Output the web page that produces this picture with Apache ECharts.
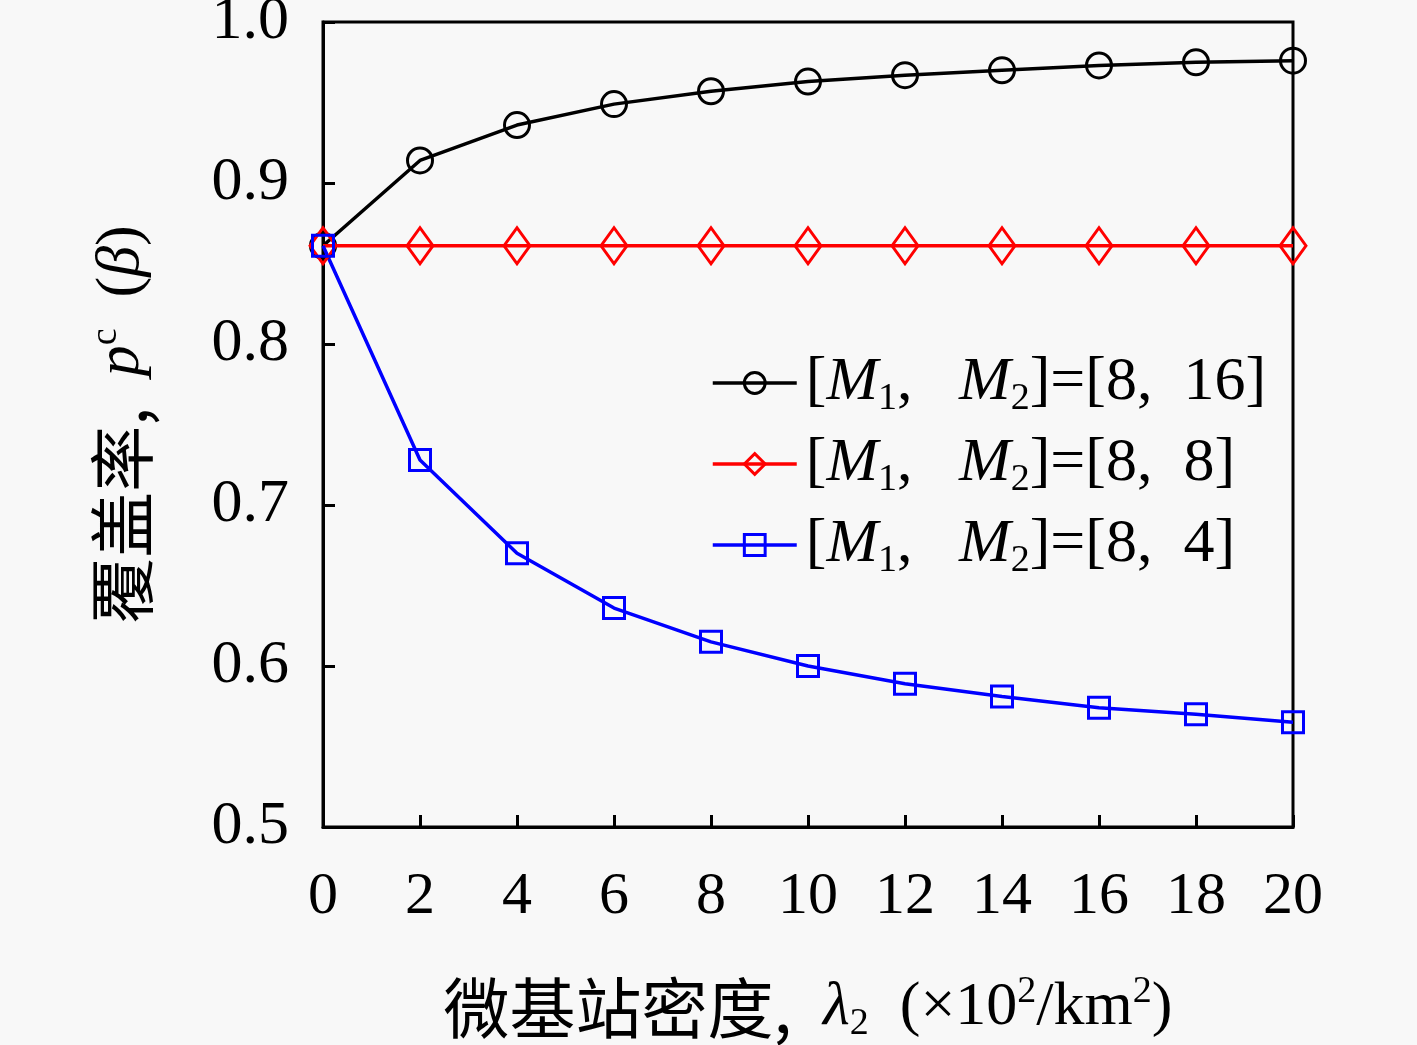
<!DOCTYPE html>
<html lang="zh">
  <head>
    <meta charset="UTF-8" />
    <title>覆盖率</title>
    <style>
      body {
        margin: 0;
        overflow: hidden;
        background: #f8f8f8;
      }
      #chart {
        width: 1417px;
        height: 1045px;
      }
    </style>
    <script src="https://cdn.jsdelivr.net/npm/echarts@6/dist/echarts.min.js"></script>
  </head>
  <body>
    <div id="chart"></div>
    <script>
      // 微基站密度 (x10^2/km^2)
      var density = [0, 2, 4, 6, 8, 10, 12, 14, 16, 18, 20];
      // 覆盖率 values
      var cov16 = [0.861, 0.914, 0.936, 0.949, 0.957, 0.963, 0.967, 0.970, 0.973, 0.975, 0.976];
      var cov8 = [0.861, 0.861, 0.861, 0.861, 0.861, 0.861, 0.861, 0.861, 0.861, 0.861, 0.861];
      var cov4 = [0.861, 0.728, 0.670, 0.636, 0.615, 0.600, 0.589, 0.581, 0.574, 0.570, 0.565];
      var legendM2 = ["16", "8", "4"];

      var serif = "Liberation Serif";
      var cjk = "Noto Sans CJK SC";
      var sp = "\u00a0";

      function pairs(ys) {
        return density.map(function (x, i) {
          return [x, ys[i]];
        });
      }

      var rich = {
        t: { fontFamily: serif, fontSize: 62, lineHeight: 70, color: "#000" },
        i: { fontFamily: serif, fontStyle: "italic", fontSize: 62, lineHeight: 70, color: "#000" },
        s: { fontFamily: serif, fontSize: 38, lineHeight: 70, verticalAlign: "bottom", color: "#000" },
        p: { fontFamily: serif, fontSize: 38, lineHeight: 70, verticalAlign: "top", color: "#000" },
        c: { fontFamily: cjk, fontSize: 66, lineHeight: 70, color: "#000" },
      };

      function mkSeries(name, data, color, symbol, size) {
        return {
          name: name,
          type: "line",
          data: pairs(data),
          symbol: symbol,
          symbolSize: size,
          showAllSymbol: true,
          lineStyle: { color: color, width: 3.5 },
          itemStyle: { color: "rgba(0,0,0,0)", borderColor: color, borderWidth: 3 },
          emphasis: { disabled: true },
          z: 3,
        };
      }

      var option = {
        backgroundColor: "#f8f8f8",
        animation: false,
        grid: {
          left: 323,
          right: 124,
          top: 22,
          bottom: 218,
          outerBoundsMode: "none",
          containLabel: false,
          show: true,
          borderColor: "#000",
          borderWidth: 3,
          backgroundColor: "transparent",
        },
        legend: {
          orient: "vertical",
          left: 706,
          top: 347,
          itemWidth: 84,
          itemHeight: 26,
          itemGap: 15,
          data: ["a", "b", "c"],
          lineStyle: { width: 3.5 },
          itemStyle: { borderWidth: 3 },
          formatter: function (name) {
            var k = { a: 0, b: 1, c: 2 }[name];
            return (
              "{t|[}{i|M}{s|1}{t|," + sp + sp + sp + "}{i|M}{s|2}{t|]=[8," + sp + sp + legendM2[k] + "]}"
            );
          },
          textStyle: { rich: rich, padding: [0, 0, 0, 4] },
        },
        xAxis: {
          type: "value",
          min: 0,
          max: 20,
          interval: 2,
          name:
            "{c|微基站密度,}{t|" + sp + sp + "}{i|λ}{s|2}{t|" + sp + sp + "(×10}{p|2}{t|/km}{p|2}{t|)}",
          nameLocation: "middle",
          nameGap: 146,
          nameTextStyle: { rich: rich },
          axisLine: { show: true, lineStyle: { color: "#000", width: 3 } },
          axisTick: { show: true, inside: true, length: 12, lineStyle: { color: "#000", width: 3 } },
          axisLabel: { fontFamily: serif, fontSize: 60, color: "#000", margin: 40 },
          splitLine: { show: false },
        },
        yAxis: {
          type: "value",
          min: 0.5,
          max: 1.0,
          interval: 0.1,
          name: "{c|覆盖率,}{t|" + sp + sp + "}{i|p}{p|c}{t|" + sp + sp + "(}{i|β}{t|)}",
          nameLocation: "middle",
          nameGap: 166,
          nameRotate: 90,
          nameTextStyle: { rich: rich },
          axisLine: { show: true, lineStyle: { color: "#000", width: 3 } },
          axisTick: { show: true, inside: true, length: 12, lineStyle: { color: "#000", width: 3 } },
          axisLabel: {
            fontFamily: serif,
            fontSize: 62,
            color: "#000",
            margin: 34,
            formatter: function (v) {
              return v.toFixed(1);
            },
          },
          splitLine: { show: false },
        },
        series: [
          mkSeries("a", cov16, "#000000", "circle", 25),
          mkSeries("b", cov8, "#ff0000", "diamond", [26, 36]),
          mkSeries("c", cov4, "#0000ff", "rect", 21),
        ],
      };

      var myChart = echarts.init(document.getElementById("chart"));
      myChart.setOption(option);
    </script>
  </body>
</html>
